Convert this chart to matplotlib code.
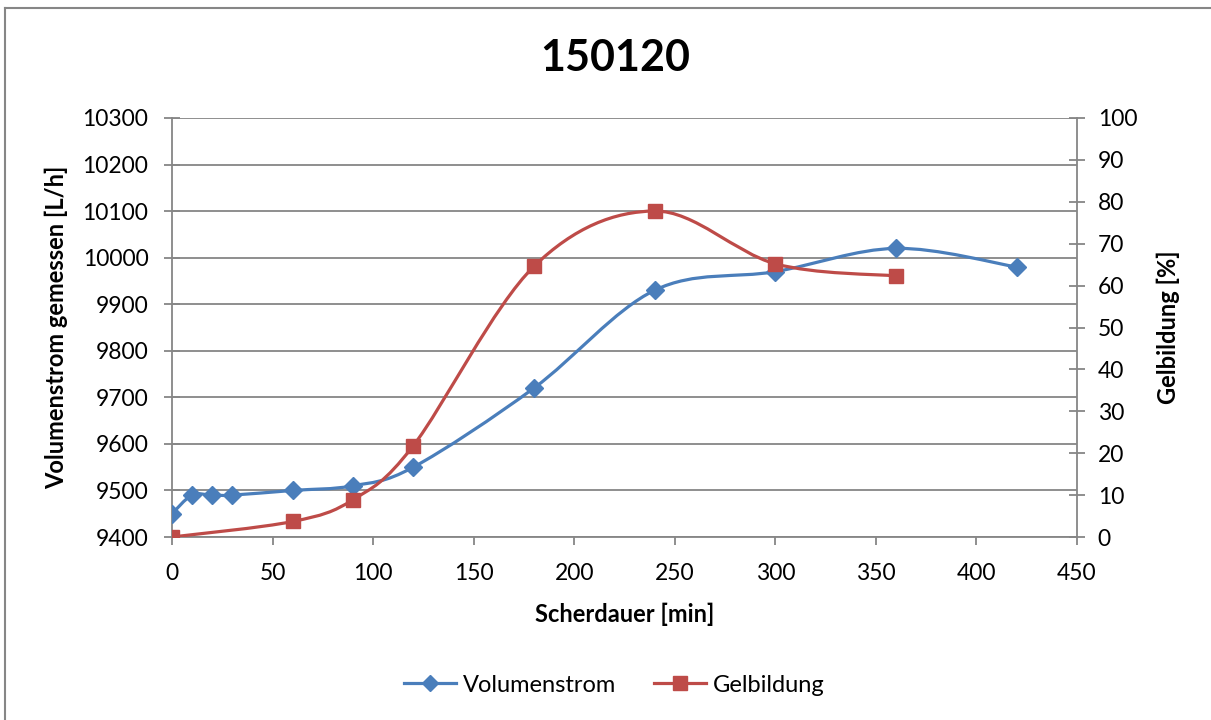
import numpy as np
import matplotlib.pyplot as plt
from matplotlib.path import Path
from matplotlib.patches import PathPatch
from matplotlib.lines import Line2D

plt.rcParams['font.family'] = ['Lato', 'DejaVu Sans']

# Scherdauer [min] and measurements
t_flow = [0, 10, 20, 30, 60, 90, 120, 180, 240, 300, 360, 420]
flow = [9450, 9490, 9490, 9490, 9500, 9510, 9550, 9720, 9930, 9970, 10020, 9980]

t_gel = [0, 60, 90, 120, 180, 240, 300, 360]
gel = [0, 3.7, 8.9, 21.8, 64.6, 77.8, 65.2, 62.3]

BLUE = '#4A7EBB'
RED = '#BE4B48'
GRAY = '#868686'


def smooth_path(x, y):
    """Spreadsheet-style smoothed line: cubic Bezier through every point."""
    pts = np.column_stack([x, y]).astype(float)
    n = len(pts)
    verts = [pts[0]]
    codes = [Path.MOVETO]
    for i in range(n - 1):
        p0 = pts[i - 1] if i > 0 else pts[i]
        p1 = pts[i]
        p2 = pts[i + 1]
        p3 = pts[i + 2] if i + 2 < n else pts[i + 1]
        c1 = p1 + (p2 - p0) / 6.0
        c2 = p2 - (p3 - p1) / 6.0
        verts += [c1, c2, p2]
        codes += [Path.CURVE4] * 3
    return Path(verts, codes)


fig = plt.figure(figsize=(12.11, 7.2), dpi=100)
ax = fig.add_axes([172 / 1211, 1 - 537 / 720, (1077 - 172) / 1211, (537 - 118) / 720])
ax2 = ax.twinx()

# left series
ax.add_patch(PathPatch(smooth_path(t_flow, flow), fill=False, edgecolor=BLUE, lw=2.3,
                       capstyle='round', zorder=3))
ax.plot(t_flow, flow, ls='none', marker='D', ms=9, color=BLUE, zorder=4)

# right series
ax2.add_patch(PathPatch(smooth_path(t_gel, gel), fill=False, edgecolor=RED, lw=2.3,
                        capstyle='round', zorder=3))
ax2.plot(t_gel, gel, ls='none', marker='s', ms=10.5, color=RED, zorder=4)

ax.set_xlim(0, 450)
ax.set_ylim(9400, 10300)
ax2.set_ylim(0, 100)
ax.set_xticks(np.arange(0, 451, 50))
ax.set_yticks(np.arange(9400, 10301, 100))
ax2.set_yticks(np.arange(0, 101, 10))

ax.grid(axis='y', color=GRAY, lw=1.3)
ax.set_axisbelow(True)

for a in (ax, ax2):
    for s in a.spines.values():
        s.set_visible(False)
ax.spines['left'].set_visible(True)
ax.spines['bottom'].set_visible(True)
ax2.spines['right'].set_visible(True)
for s in (ax.spines['left'], ax.spines['bottom'], ax2.spines['right']):
    s.set_color(GRAY)
    s.set_linewidth(1.3)

ax.tick_params(axis='y', direction='inout', length=12, width=1.3, color=GRAY,
               labelsize=16.5, pad=11)
ax.tick_params(axis='x', direction='out', length=6, width=1.3, color=GRAY,
               labelsize=16.5, pad=13)
ax2.tick_params(axis='y', direction='inout', length=12, width=1.3, color=GRAY,
                labelsize=16.5, pad=9)

ax.set_xlabel('Scherdauer [min]', fontsize=17, fontweight='bold', labelpad=13)
ax.set_ylabel('Volumenstrom gemessen [L/h]', fontsize=17, fontweight='bold', labelpad=10)
ax2.set_ylabel('Gelbildung [%]', fontsize=17, fontweight='bold', labelpad=14)

fig.text(0.508, 1 - 58 / 720, '150120', ha='center', va='center', fontsize=31,
         fontweight='bold')

handles = [
    Line2D([], [], color=BLUE, lw=2.3, marker='D', ms=8.5),
    Line2D([], [], color=RED, lw=2.3, marker='s', ms=9.5),
]
fig.legend(handles, ['Volumenstrom', 'Gelbildung'], loc='center',
           bbox_to_anchor=(614 / 1211, 1 - 685 / 720), ncol=2, frameon=False,
           fontsize=17, handlelength=2.2, columnspacing=1.6, handletextpad=0.3)

# chart frame (top and left edges visible)
fig.add_artist(Line2D([4.5 / 1211, 4.5 / 1211], [0, 1 - 7.5 / 720],
                      transform=fig.transFigure, color=GRAY, lw=1.5))
fig.add_artist(Line2D([4.5 / 1211, 1], [1 - 7.5 / 720, 1 - 7.5 / 720],
                      transform=fig.transFigure, color=GRAY, lw=1.5))

fig.savefig('out.png', dpi=100)
